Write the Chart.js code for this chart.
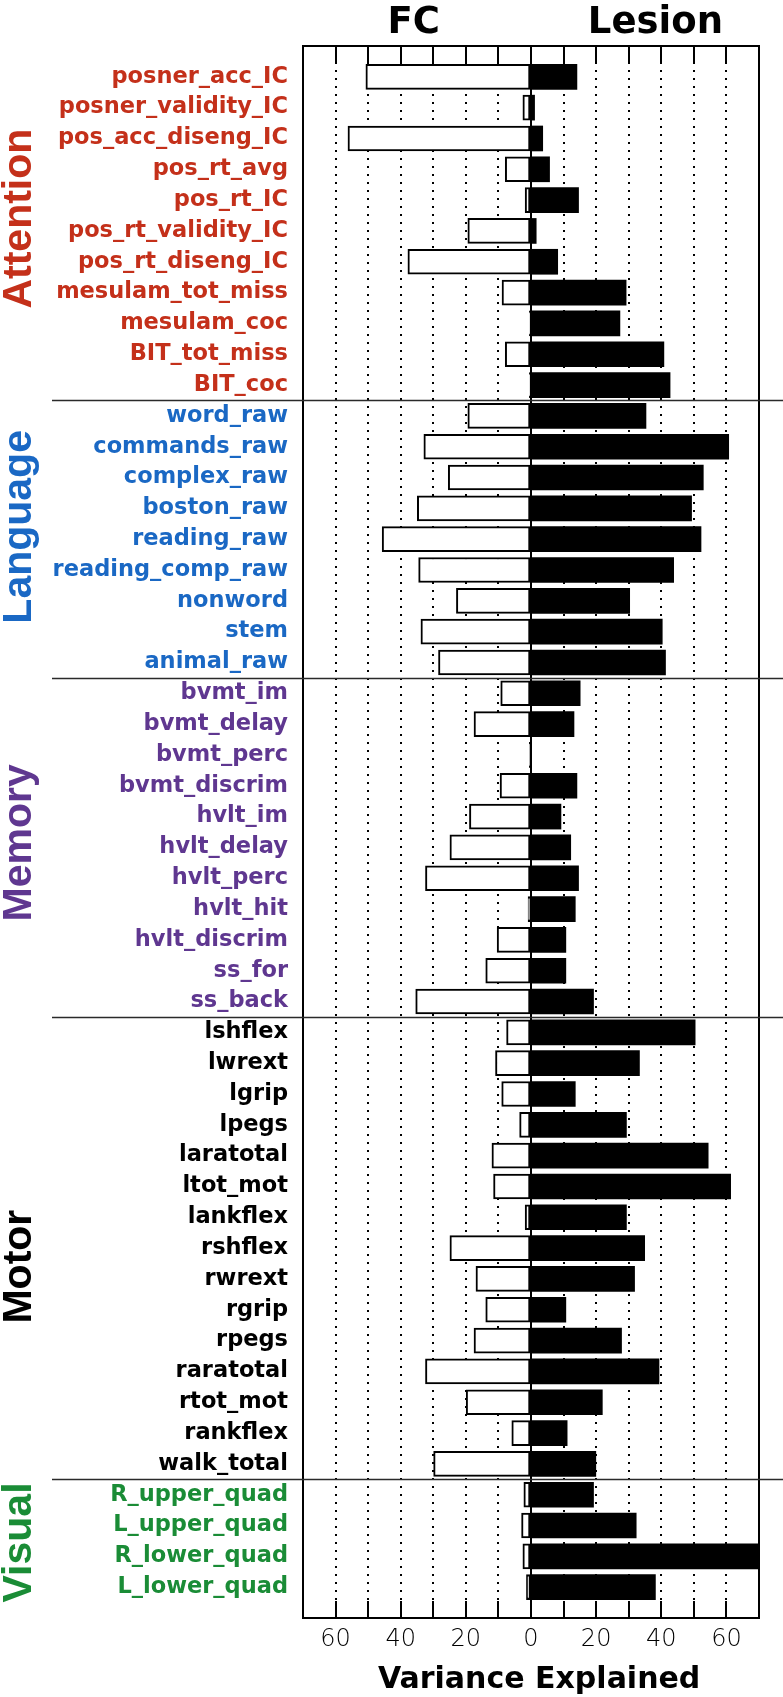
<!DOCTYPE html>
<html>
<head>
<meta charset="utf-8">
<script src="https://cdn.jsdelivr.net/npm/chart.js@4.4.1/dist/chart.umd.min.js"></script>
<style>
  html, body { margin: 0; padding: 0; background: #fff; }
  #wrap { width: 783px; height: 1697px; }
</style>
</head>
<body>
<div id="wrap"><canvas id="c" width="783" height="1697"></canvas></div>
<script>
// ---- Data ----
const attentionLabels = ['posner_acc_IC','posner_validity_IC','pos_acc_diseng_IC','pos_rt_avg','pos_rt_IC','pos_rt_validity_IC','pos_rt_diseng_IC','mesulam_tot_miss','mesulam_coc','BIT_tot_miss','BIT_coc'];
const languageLabels = ['word_raw','commands_raw','complex_raw','boston_raw','reading_raw','reading_comp_raw','nonword','stem','animal_raw'];
const memoryLabels = ['bvmt_im','bvmt_delay','bvmt_perc','bvmt_discrim','hvlt_im','hvlt_delay','hvlt_perc','hvlt_hit','hvlt_discrim','ss_for','ss_back'];
const motorLabels = ['lshflex','lwrext','lgrip','lpegs','laratotal','ltot_mot','lankflex','rshflex','rwrext','rgrip','rpegs','raratotal','rtot_mot','rankflex','walk_total'];
const visualLabels = ['R_upper_quad','L_upper_quad','R_lower_quad','L_lower_quad'];

const attentionFC = [50.7, 2.5, 56.2, 7.9, 1.8, 19.4, 37.8, 8.9, 0.5, 7.9, 0.5];
const languageFC = [19.4, 32.9, 25.4, 34.9, 45.7, 34.5, 22.9, 33.8, 28.4];
const memoryFC = [9.3, 17.5, 0.5, 9.5, 18.9, 24.9, 32.4, 0.9, 10.4, 13.9, 35.4];
const motorFC = [7.5, 10.9, 9.0, 3.5, 12.0, 11.5, 1.8, 24.9, 16.9, 13.9, 17.5, 32.4, 19.9, 5.9, 29.9];
const visualFC = [2.2, 2.9, 2.5, 1.4];

const attentionLesion = [14.1, 1.1, 3.6, 5.7, 14.6, 1.6, 8.2, 29.2, 27.3, 40.8, 42.7];
const languageLesion = [35.3, 60.7, 52.9, 49.3, 52.2, 43.8, 30.3, 40.3, 41.3];
const memoryLesion = [15.1, 13.2, 0, 14.1, 9.2, 12.2, 14.6, 13.6, 10.7, 10.7, 19.2];
const motorLesion = [50.4, 33.3, 13.6, 29.3, 54.4, 61.3, 29.3, 34.9, 31.8, 10.7, 27.8, 39.3, 21.9, 11.1, 19.9];
const visualLesion = [19.2, 32.3, 70, 38.2];

const groupNames = ['Attention','Language','Memory','Motor','Visual'];
const groupColors = ['#c4301a','#1a68c4','#5f3790','#000000','#1a8c36'];
const groupTitleRows = [4.6, 14.6, 24.85, 38.6, 47.55];
const xTickValues = [-60, -40, -20, 0, 20, 40, 60];
const xMin = -70, xMax = 70;

// ---- Build ----
const groupLabels = [attentionLabels, languageLabels, memoryLabels, motorLabels, visualLabels];
const groupFC = [attentionFC, languageFC, memoryFC, motorFC, visualFC];
const groupLesion = [attentionLesion, languageLesion, memoryLesion, motorLesion, visualLesion];

const labels = [].concat(...groupLabels);
const fcValues = [].concat(...groupFC);
const lesionValues = [].concat(...groupLesion);
const rowGroup = [];
groupLabels.forEach((g, gi) => g.forEach(() => rowGroup.push(gi)));
const separators = [];
{ let acc = 0; for (let i = 0; i < groupLabels.length - 1; i++) { acc += groupLabels[i].length; separators.push(acc - 0.5); } }

const fcData = fcValues.map((v, i) => ({ x: -v, y: i }));
const lesionData = lesionValues.map((v, i) => ({ x: v, y: i }));

const decorPlugin = {
  id: 'decor',
  afterDatasetsDraw(chart) {
    const { ctx, chartArea: a, scales: { x, y } } = chart;
    ctx.save();
    ctx.strokeStyle = '#000';
    ctx.lineWidth = 2;
    const x0 = Math.round(x.getPixelForValue(0));
    ctx.beginPath(); ctx.moveTo(x0, a.top); ctx.lineTo(x0, a.bottom); ctx.stroke();
    for (let v = xMin + 10; v < xMax; v += 10) {
      const px = Math.round(x.getPixelForValue(v));
      ctx.beginPath();
      ctx.moveTo(px, a.top); ctx.lineTo(px, a.top + 16);
      ctx.moveTo(px, a.bottom); ctx.lineTo(px, a.bottom - 17);
      ctx.stroke();
    }
    ctx.lineWidth = 2;
    ctx.strokeRect(a.left, a.top, a.right - a.left, a.bottom - a.top);
    ctx.strokeStyle = '#2a2a2a';
    ctx.lineWidth = 1.6;
    separators.forEach(s => {
      const py = Math.round(y.getPixelForValue(s)) + 0.5;
      ctx.beginPath(); ctx.moveTo(52, py); ctx.lineTo(chart.width, py); ctx.stroke();
    });
    ctx.restore();
  },
  afterDraw(chart) {
    const { ctx, scales: { x, y } } = chart;
    ctx.save();
    ctx.fillStyle = '#000';
    ctx.font = 'bold 37px "DejaVu Sans"';
    ctx.textAlign = 'center';
    ctx.textBaseline = 'alphabetic';
    ctx.fillText('FC', x.getPixelForValue(-36), 33);
    ctx.fillText('Lesion', x.getPixelForValue(38.2), 33);
    ctx.font = 'bold 30px "DejaVu Sans"';
    ctx.fillText('Variance Explained', x.getPixelForValue(2.5), 1688);
    ctx.font = 'bold 41px "Liberation Sans"';
    groupNames.forEach((n, i) => {
      ctx.save();
      ctx.translate(31, y.getPixelForValue(groupTitleRows[i]));
      ctx.rotate(-Math.PI / 2);
      ctx.fillStyle = groupColors[i];
      ctx.textAlign = 'center';
      ctx.fillText(n, 0, 0);
      ctx.restore();
    });
    ctx.restore();
  }
};

new Chart(document.getElementById('c'), {
  type: 'bar',
  data: {
    datasets: [
      { label: 'FC', data: fcData, backgroundColor: '#ffffff', borderColor: '#000000', borderWidth: 2, borderSkipped: false, barThickness: 25 },
      { label: 'Lesion', data: lesionData, backgroundColor: '#000000', borderColor: '#000000', borderWidth: 0, barThickness: 25 }
    ]
  },
  options: {
    indexAxis: 'y',
    responsive: false,
    animation: false,
    events: [],
    layout: { padding: { top: 46, right: 24, bottom: 0, left: 0 } },
    plugins: { legend: { display: false }, tooltip: { enabled: false } },
    scales: {
      x: {
        type: 'linear',
        min: xMin, max: xMax,
        stacked: true,
        offset: false,
        afterFit: s => { s.height = 79; },
        border: { display: false, dash: [2, 6] },
        grid: {
          drawTicks: false,
          offset: false,
          lineWidth: 2,
          color: c => (c.tick && (Math.abs(c.tick.value) >= 70 || c.tick.value === 0)) ? 'rgba(0,0,0,0)' : '#000'
        },
        ticks: {
          stepSize: 10,
          autoSkip: false,
          maxRotation: 0,
          padding: 7,
          color: '#000',
          font: { family: 'DejaVu Sans', weight: '200', size: 24 },
          callback: v => xTickValues.includes(v) ? String(Math.abs(v)) : ''
        }
      },
      y: {
        type: 'linear',
        min: -1, max: labels.length,
        reverse: true,
        stacked: true,
        offset: false,
        afterFit: s => { s.width = 303; },
        afterBuildTicks: s => { s.ticks = labels.map((_, i) => ({ value: i })); },
        border: { display: false },
        grid: { display: false, drawTicks: false, offset: false },
        ticks: {
          autoSkip: false,
          padding: 15,
          font: { family: 'DejaVu Sans', weight: 'bold', size: 22.5 },
          color: c => groupColors[rowGroup[c.index]] || '#000',
          callback: (v, i) => labels[i]
        }
      }
    }
  },
  plugins: [decorPlugin]
});
</script>
</body>
</html>
